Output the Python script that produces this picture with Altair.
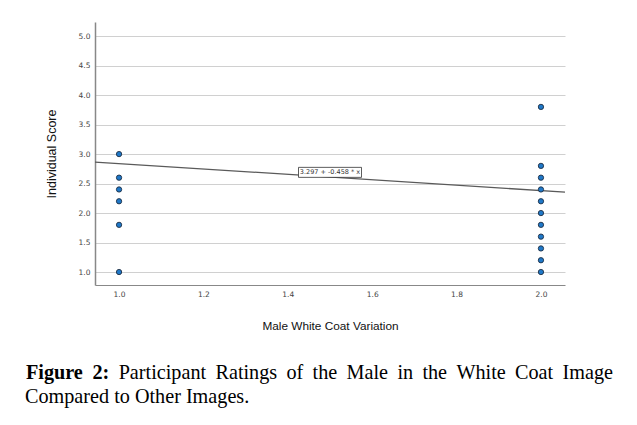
import altair as alt
import pandas as pd

# Data
x_group1 = [1.0, 1.0, 1.0, 1.0, 1.0, 1.0]
y_group1 = [3.0, 2.6, 2.4, 2.2, 1.8, 1.0]
x_group2 = [2.0] * 11
y_group2 = [3.8, 2.8, 2.6, 2.4, 2.2, 2.0, 1.8, 1.6, 1.4, 1.2, 1.0]

intercept = 3.297
slope = -0.458
fit_label = "3.297 + -0.458 * x"

x_domain = [0.943, 2.057]
y_domain = [0.78, 5.24]
x_ticks = [1.0, 1.2, 1.4, 1.6, 1.8, 2.0]
y_ticks = [1.0, 1.5, 2.0, 2.5, 3.0, 3.5, 4.0, 4.5, 5.0]

caption_bold = ["Figure", "2:"]
caption_line1 = ["Participant", "Ratings", "of", "the", "Male", "in", "the", "White", "Coat", "Image"]
caption_line2 = "Compared to Other Images."

x_title = "Male White Coat Variation"
y_title = "Individual Score"

# ---- layout ----
X0, Y0 = 95, 22
W, H = 470, 263
CAP_SIZE = 20.2
CAP_LEFT, CAP_RIGHT = 26, 613
line1_base = 379
line2_base = 403

# Times (Liberation Serif) advance widths, per 1000 em, for justifying line 1
REG = {"P": 556, "a": 444, "r": 333, "t": 278, "i": 278, "c": 444, "p": 500, "n": 500,
       "R": 667, "g": 500, "s": 389, "o": 500, "f": 333, "h": 500, "e": 444, "M": 889,
       "l": 278, "W": 944, "C": 667, "I": 333, "m": 778}
BOLD = {"F": 611, "i": 278, "g": 500, "u": 556, "r": 444, "e": 444, "2": 500, ":": 333}


def wwidth(word, table):
    return sum(table[c] for c in word) / 1000.0 * CAP_SIZE


words = [(w, True) for w in caption_bold] + [(w, False) for w in caption_line1]
widths = [wwidth(w, BOLD if b else REG) for w, b in words]
gap = (CAP_RIGHT - CAP_LEFT - sum(widths)) / (len(words) - 1)
lefts = []
pos = CAP_LEFT
for wd in widths:
    lefts.append(pos)
    pos += wd + gap

points = pd.DataFrame({"x": x_group1 + x_group2, "y": y_group1 + y_group2})
line_df = pd.DataFrame({"x": x_domain})
line_df["y"] = intercept + slope * line_df["x"]
label_df = pd.DataFrame({"x": [1.5], "y": [2.69], "label": [fit_label]})

xs = alt.Scale(domain=x_domain, nice=False, zero=False)
ys = alt.Scale(domain=y_domain, nice=False, zero=False)

x_axis = alt.Axis(values=x_ticks, format=".1f", title=x_title, grid=False, ticks=False,
                  labelFontSize=7.5, labelColor="#444", labelFont="DejaVu Sans", labelPadding=5,
                  labelOverlap=False, domainColor="#888", domainWidth=1.2,
                  titleFont="Liberation Sans", titleFontSize=11.8, titleFontWeight="normal",
                  titleColor="#111", titlePadding=23)
y_axis = alt.Axis(values=y_ticks, format=".1f", title=y_title, grid=True, gridColor="#d0d0d0",
                  gridWidth=1, ticks=False, labelFontSize=7.5, labelColor="#444",
                  labelFont="DejaVu Sans", labelPadding=5, labelOverlap=False,
                  domainColor="#888", domainWidth=1.5,
                  titleFont="Liberation Sans", titleFontSize=12.5, titleFontWeight="normal",
                  titleColor="#111", titlePadding=20)

X = alt.X("x:Q", scale=xs, axis=x_axis)
Y = alt.Y("y:Q", scale=ys, axis=y_axis)

line = alt.Chart(line_df).mark_line(color="#5a5a5a", strokeWidth=1.3).encode(x=X, y=Y)

pts = alt.Chart(points).mark_point(filled=True, shape="circle", size=28, color="#1f78c8",
                                   stroke="#1d2f45", strokeWidth=0.9, opacity=1).encode(x=X, y=Y)

label_bg = alt.Chart(label_df).mark_rect(fill="white", stroke="#333", strokeWidth=0.8,
                                        width=63, height=10).encode(x=X, y=Y)

label_txt = alt.Chart(label_df).mark_text(fontSize=6.5, font="DejaVu Sans", color="#333").encode(
    x=X, y=Y, text="label:N")

cap_df = pd.DataFrame({"t": [0]})
layers = [line, pts, label_bg, label_txt]
for (word, bold), xl in zip(words, lefts):
    layers.append(alt.Chart(cap_df).mark_text(text=word, font="Liberation Serif",
                                              fontSize=CAP_SIZE,
                                              fontWeight="bold" if bold else "normal",
                                              align="left", baseline="alphabetic",
                                              color="black").encode(
        x=alt.value(xl - X0), y=alt.value(line1_base - Y0)))
layers.append(alt.Chart(cap_df).mark_text(text=caption_line2, font="Liberation Serif",
                                          fontSize=CAP_SIZE, align="left",
                                          baseline="alphabetic", color="black").encode(
    x=alt.value(25 - X0), y=alt.value(line2_base - Y0)))

chart = alt.layer(*layers).properties(
    width=W, height=H,
    autosize=alt.AutoSizeParams(type="none"),
    padding={"left": X0 - 8, "top": Y0 - 8, "right": 64, "bottom": 132},
    background="white",
).configure_view(stroke=None)

chart.save("out.html", embed_options={"renderer": "svg", "actions": False})
